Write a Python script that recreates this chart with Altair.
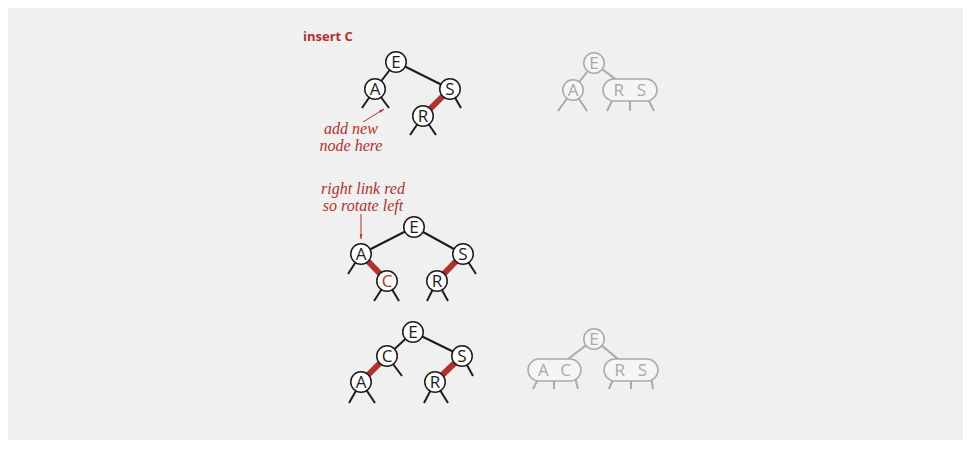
import math
import altair as alt
import pandas as pd

# Schlüssel und Lage der Knoten (in Pixeln der Seite), je Baum
tree1_keys = ["E", "A", "S", "R"]
tree1_x = [396, 375, 450, 423]
tree1_y = [62, 89, 89, 116]

tree2_keys = ["E", "A", "S", "C", "R"]
tree2_x = [414, 361, 463, 387, 437]
tree2_y = [227, 254, 254, 281, 281]

tree3_keys = ["E", "C", "S", "A", "R"]
tree3_x = [413, 387, 462, 361, 435]
tree3_y = [332, 356, 356, 382, 382]

# Links: (Baum, von, nach, rot)
links = [
    (1, "E", "A", False), (1, "E", "S", False), (1, "S", "R", True),
    (2, "E", "A", False), (2, "E", "S", False), (2, "A", "C", True), (2, "S", "R", True),
    (3, "E", "C", False), (3, "E", "S", False), (3, "C", "A", True), (3, "S", "R", True),
]

# Null-Links: (Baum, Knoten, Ende x, Ende y)
null_links = [
    (1, "A", 362, 108), (1, "A", 389, 108), (1, "S", 461, 108), (1, "R", 410, 135), (1, "R", 436, 135),
    (2, "A", 348, 274), (2, "S", 476, 274), (2, "C", 374, 301), (2, "C", 399, 301),
    (2, "R", 427, 301), (2, "R", 448, 301),
    (3, "C", 402, 376), (3, "S", 473, 376), (3, "A", 349, 403), (3, "A", 375, 403),
    (3, "R", 424, 403), (3, "R", 448, 403),
]

# der neu eingefügte Knoten (rot beschriftet)
new_key = [(2, "C")]

# entsprechende 2-3-Bäume (grau)
gray_keys = ["E", "A", "E"]
gray_x = [594, 573, 594]
gray_y = [63, 90, 339]
# 3-Knoten: (linker Schlüssel, rechter Schlüssel, x links, x rechts, y oben, y unten)
gray_3nodes = [("R", "S", 603, 657, 79, 101), ("A", "C", 528, 581, 359, 381), ("R", "S", 604, 658, 359, 381)]
gray_links = [(594, 63, 573, 90), (594, 63, 630, 90), (594, 339, 554, 370), (594, 339, 631, 370)]
gray_null = [
    (573, 90, 558, 111), (573, 90, 587, 111),
    (614, 97, 607, 111), (630, 97, 630, 111), (647, 97, 654, 111),
    (539, 377, 533, 389), (554, 377, 554, 389), (575, 377, 578, 389),
    (614, 377, 609, 389), (631, 377, 631, 389), (651, 377, 653, 389),
]

# Beschriftungen
title_text = [("insert C", 303, 41)]
notes = [("add new\nnode here", 351, 134), ("right link red\nso rotate left", 363, 194)]
arrows = [(363, 122, 384, 109), (361, 214, 361, 239)]

RED = "#b5302b"
BLACK = "#1c1c1c"
GRAY = "#a9a9a9"
BG = "#f0f0f0"
W, H = 955, 432

pos = {1: dict(zip(tree1_keys, zip(tree1_x, tree1_y))),
       2: dict(zip(tree2_keys, zip(tree2_x, tree2_y))),
       3: dict(zip(tree3_keys, zip(tree3_x, tree3_y)))}

nodes_df = pd.DataFrame(
    [{"tree": t, "key": k, "x": p[0], "y": p[1], "new": (t, k) in new_key}
     for t, d in pos.items() for k, p in d.items()])

links_df = pd.DataFrame(
    [{"x": pos[t][a][0], "y": pos[t][a][1], "x2": pos[t][b][0], "y2": pos[t][b][1], "red": r}
     for t, a, b, r in links])

null_df = pd.DataFrame(
    [{"x": pos[t][k][0], "y": pos[t][k][1], "x2": ex, "y2": ey} for t, k, ex, ey in null_links])

gray_nodes_df = pd.DataFrame({"key": gray_keys, "x": gray_x, "y": gray_y})
gray_ovals_df = pd.DataFrame(
    [{"x": x0, "x2": x1, "y": y0, "y2": y1} for _, _, x0, x1, y0, y1 in gray_3nodes])
gray_oval_keys_df = pd.DataFrame(
    [{"key": k, "x": x0 + (x1 - x0) * f, "y": (y0 + y1) / 2}
     for a, b, x0, x1, y0, y1 in gray_3nodes for k, f in ((a, 0.29), (b, 0.71))])
gray_seg_df = pd.DataFrame(
    [{"x": a, "y": b, "x2": c, "y2": d} for a, b, c, d in gray_links + gray_null])

title_df = pd.DataFrame(title_text, columns=["text", "x", "y"])
notes_df = pd.DataFrame(notes, columns=["text", "x", "y"])
arrow_df = pd.DataFrame(arrows, columns=["x", "y", "x2", "y2"])
arrow_df["ang"] = [(math.degrees(math.atan2(x2 - x1, -(y2 - y1))) + 360) % 360
                   for x1, y1, x2, y2 in arrows]

xs = alt.Scale(domain=[8, 8 + W], nice=False, zero=False)
ys = alt.Scale(domain=[8, 8 + H], nice=False, zero=False, reverse=True)


def X(f="x"):
    return alt.X(f"{f}:Q", scale=xs, axis=None)


def Y(f="y"):
    return alt.Y(f"{f}:Q", scale=ys, axis=None)


seg_enc = dict(x=X(), y=Y(), x2="x2:Q", y2="y2:Q")

gray_segs = alt.Chart(gray_seg_df).mark_rule(color=GRAY, strokeWidth=2).encode(**seg_enc)
gray_ovals = alt.Chart(gray_ovals_df).mark_rect(
    cornerRadius=11, fill="#f5f5f5", stroke=GRAY, strokeWidth=1.5).encode(**seg_enc)
gray_circles = alt.Chart(gray_nodes_df).mark_point(
    shape="circle", filled=True, fill="#f5f5f5", stroke=GRAY, strokeWidth=1.5, size=420, opacity=1
).encode(x=X(), y=Y())
gray_letters = alt.Chart(pd.concat([gray_nodes_df, gray_oval_keys_df])).mark_text(
    font="Open Sans", fontSize=17, color=GRAY, baseline="middle", dy=1).encode(x=X(), y=Y(), text="key:N")

null_rules = alt.Chart(null_df).mark_rule(color=BLACK, strokeWidth=2).encode(**seg_enc)
black_links = alt.Chart(links_df).transform_filter("!datum.red").mark_rule(
    color=BLACK, strokeWidth=2).encode(**seg_enc)
red_links = alt.Chart(links_df).transform_filter("datum.red").mark_rule(
    color=RED, strokeWidth=6).encode(**seg_enc)
circles = alt.Chart(nodes_df).mark_point(
    shape="circle", filled=True, fill="white", stroke=BLACK, strokeWidth=1.5, size=420, opacity=1
).encode(x=X(), y=Y())
letters = alt.Chart(nodes_df).mark_text(
    font="Open Sans", fontSize=17, baseline="middle", dy=1).encode(
    x=X(), y=Y(), text="key:N",
    color=alt.condition("datum.new", alt.value(RED), alt.value(BLACK)))

title = alt.Chart(title_df).mark_text(
    font="Open Sans", fontSize=13, fontWeight="bold", color=RED, align="left", baseline="alphabetic"
).encode(x=X(), y=Y(), text="text:N")
note_text = alt.Chart(notes_df).mark_text(
    font="Liberation Serif", fontStyle="italic", fontSize=16, color=RED, align="center",
    baseline="alphabetic", lineBreak="\n", lineHeight=17).encode(x=X(), y=Y(), text="text:N")
arrow_lines = alt.Chart(arrow_df).mark_rule(color=RED, strokeWidth=1).encode(**seg_enc)
arrow_heads = alt.Chart(arrow_df).mark_point(
    shape="M0,0L0.7,2.4L-0.7,2.4Z", filled=True, color=RED, size=16, opacity=1
).encode(x=X("x2"), y=Y("y2"), angle=alt.Angle("ang:Q", scale=None))

chart = alt.layer(
    gray_segs, gray_ovals, gray_circles, gray_letters,
    null_rules, black_links, red_links, circles, letters,
    title, note_text, arrow_lines, arrow_heads,
).properties(
    width=W, height=H, padding=0, autosize="none", background=BG
).configure_view(stroke=None)

chart.save("out.html", embed_options={"renderer": "svg", "actions": False})
